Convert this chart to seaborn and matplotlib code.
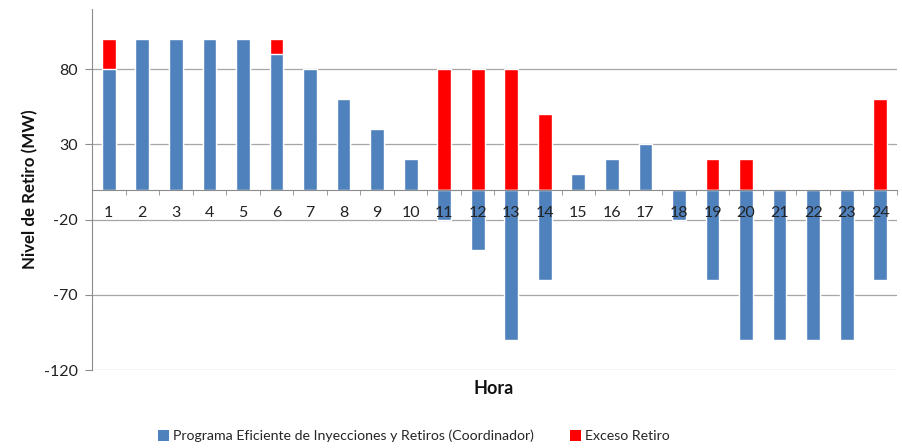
import numpy as np
import pandas as pd
import matplotlib
matplotlib.use("Agg")
import matplotlib.pyplot as plt
import seaborn as sns
from matplotlib.patches import Patch

horas = [str(h) for h in range(1, 25)]
programa = [80, 100, 100, 100, 100, 90, 80, 60, 40, 20, -20, -40,
            -100, -60, 10, 20, 30, -20, -60, -100, -100, -100, -100, -60]
exceso = [20, 0, 0, 0, 0, 10, 0, 0, 0, 0, 80, 80,
          80, 50, 0, 0, 0, 0, 20, 20, 0, 0, 0, 60]
yticks = [-120, -70, -20, 30, 80]

serie_azul = "Programa Eficiente de Inyecciones y Retiros (Coordinador)"
serie_roja = "Exceso Retiro"
col_azul = "#4F81BD"
col_rojo = "#FF0000"

df = pd.DataFrame({"Hora": horas, "Programa": programa, "Exceso": exceso})
df["TopeExceso"] = np.maximum(df["Programa"], 0) + df["Exceso"]

sns.set_style("white")
plt.rcParams["font.family"] = ["Lato", "DejaVu Sans"]

fig = plt.figure(figsize=(9.02, 4.48), dpi=100)
ax = fig.add_axes([92 / 902, 1 - 370 / 448, (897 - 92) / 902, (370 - 9) / 448])

# red excess bars (drawn first, blue overlaps them)
sns.barplot(data=df, x="Hora", y="TopeExceso", color=col_rojo, width=0.41,
            saturation=1, ax=ax, order=horas, zorder=2)
sns.barplot(data=df, x="Hora", y="Programa", color=col_azul, width=0.41,
            saturation=1, ax=ax, order=horas, zorder=3)

ax.set_ylim(-120, 120)
ax.set_xlim(-0.5, 23.5)
ax.set_yticks(yticks)
ax.set_yticklabels([str(v) for v in yticks], fontsize=11.5, color="#222222")
ax.yaxis.grid(True, color="#A6A6A6", linewidth=0.9)
ax.set_axisbelow(True)
ax.xaxis.set_zorder(5)

for s in ["top", "right"]:
    ax.spines[s].set_visible(False)
ax.spines["bottom"].set_position(("data", 0))
ax.spines["bottom"].set_color("#8C8C8C")
ax.spines["bottom"].set_zorder(4)
ax.spines["left"].set_color("#8C8C8C")

ax.tick_params(axis="y", which="major", length=5, color="#8C8C8C", pad=5, left=True)
ax.tick_params(axis="x", which="major", length=0, pad=12, labelsize=11.5,
               labelcolor="#222222")
ax.set_xticks(np.arange(-0.5, 24, 1), minor=True)
ax.tick_params(axis="x", which="minor", length=3.5, color="#8C8C8C", direction="out",
               bottom=True)

ax.set_xlabel("")
ax.set_ylabel("")
fig.text(30 / 902, 1 - 189 / 448, "Nivel de Retiro (MW)", rotation=90,
         ha="center", va="center", fontsize=12.2, fontweight="bold", color="#111111")
fig.text(494 / 902, 1 - 388 / 448, "Hora", ha="center", va="center",
         fontsize=13, fontweight="bold", color="#111111")

handles = [Patch(facecolor=col_azul, edgecolor="none", label=serie_azul),
           Patch(facecolor=col_rojo, edgecolor="none", label=serie_roja)]
fig.legend(handles=handles, loc="center", bbox_to_anchor=(414 / 902, 1 - 436 / 448),
           ncol=2, frameon=False, fontsize=10.2, handlelength=0.75, handleheight=0.75,
           handletextpad=0.3, columnspacing=2.6)

fig.savefig("out.png", dpi=100)
